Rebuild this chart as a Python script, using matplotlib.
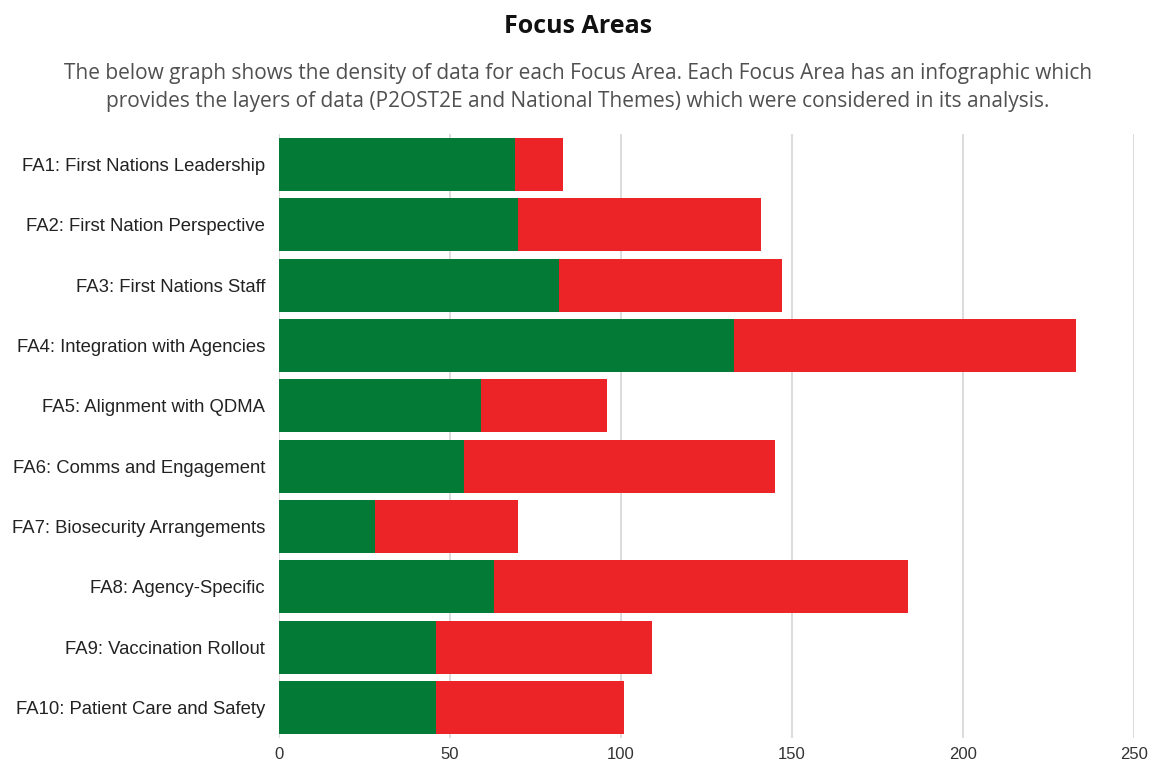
import numpy as np
import matplotlib.pyplot as plt

# Focus area data: green = first layer, red = remaining layers (stacked)
areas = [
    "FA1: First Nations Leadership",
    "FA2: First Nation Perspective",
    "FA3: First Nations Staff",
    "FA4: Integration with Agencies",
    "FA5: Alignment with QDMA",
    "FA6: Comms and Engagement",
    "FA7: Biosecurity Arrangements",
    "FA8: Agency-Specific",
    "FA9: Vaccination Rollout",
    "FA10: Patient Care and Safety",
]
green_vals = [69, 70, 82, 133, 59, 54, 28, 63, 46, 46]
totals = [83, 141, 147, 233, 96, 145, 70, 184, 109, 101]
red_vals = [t - g for t, g in zip(totals, green_vals)]
xticks = [0, 50, 100, 150, 200, 250]

GREEN = "#037A35"
RED = "#EC2327"

fig = plt.figure(figsize=(11.56, 7.65), dpi=100)
ax = fig.add_axes([0.2413, 0.0357, 0.9810 - 0.2413, 0.8244 - 0.0357])

y = np.arange(len(areas))
ax.barh(y, green_vals, height=0.88, color=GREEN, zorder=3)
ax.barh(y, red_vals, left=green_vals, height=0.88, color=RED, zorder=3)

ax.set_xlim(0, 250)
ax.set_ylim(len(areas) - 0.5, -0.5)
ax.set_xticks(xticks)
ax.set_xticklabels([str(t) for t in xticks], fontfamily="Liberation Sans",
                   fontsize=12, color="#333333")
ax.set_yticks(y)
ax.set_yticklabels(areas, fontfamily="Liberation Sans", fontsize=13.3, color="#222222")
ax.tick_params(axis="both", length=0)
ax.tick_params(axis="x", pad=7)
ax.tick_params(axis="y", pad=10)
ax.grid(axis="x", color="#d6d6d6", linewidth=1.2, zorder=0)
for s in ax.spines.values():
    s.set_visible(False)

fig.text(0.5, 0.966, "Focus Areas", ha="center", va="center",
         fontfamily="Open Sans", fontweight="bold", fontsize=18, color="#111111")
fig.text(0.5, 0.904, "The below graph shows the density of data for each Focus Area. Each Focus Area has an infographic which",
         ha="center", va="center", fontfamily="Open Sans", fontsize=15, color="#505050")
fig.text(0.5, 0.867, "provides the layers of data (P2OST2E and National Themes) which were considered in its analysis.",
         ha="center", va="center", fontfamily="Open Sans", fontsize=15, color="#505050")

fig.savefig("out.png", dpi=100)
